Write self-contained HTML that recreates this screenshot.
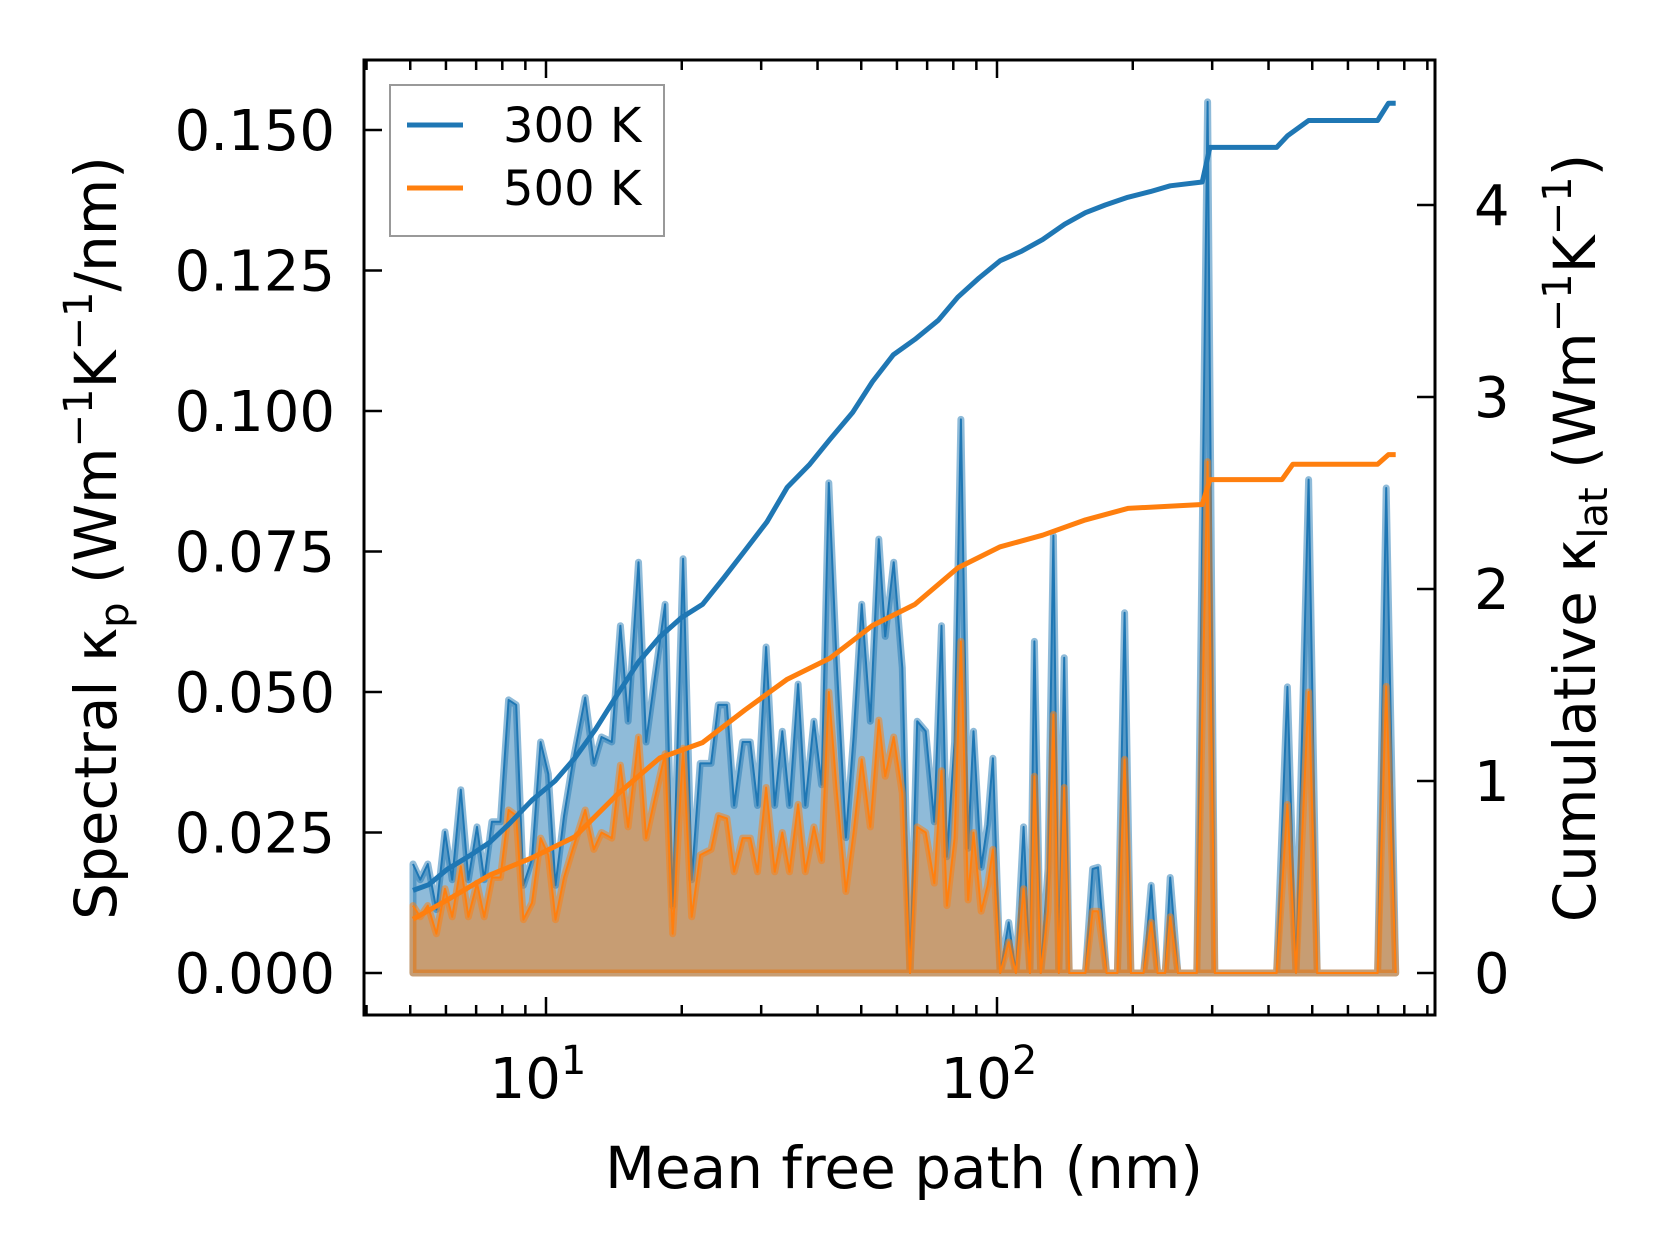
<!DOCTYPE html>
<html><head><meta charset="utf-8"><style>
html,body{margin:0;padding:0;background:#fff;}
svg{display:block;font-family:"DejaVu Sans","Liberation Sans",sans-serif;}
</style></head><body>
<svg id="chart" width="1660" height="1254" viewBox="0 0 1660 1254" xmlns="http://www.w3.org/2000/svg"></svg>
<script>
// ---- data ----
const logMfp = [0.705,0.721,0.738,0.757,0.776,0.792,0.811,0.828,0.847,0.863,
0.880,0.899,0.917,0.934,0.950,0.969,0.988,1.005,1.021,1.040,
1.059,1.087,1.106,1.123,1.146,1.165,1.182,1.205,1.222,1.241,
1.264,1.281,1.304,1.323,1.342,1.366,1.382,1.401,1.417,1.436,
1.453,1.469,1.488,1.507,1.524,1.540,1.559,1.575,1.594,1.611,
1.627,1.644,1.665,1.682,1.700,1.719,1.738,1.752,1.771,1.790,
1.807,1.823,1.842,1.861,1.877,1.889,1.906,1.920,1.936,1.948,
1.965,1.979,1.991,2.007,2.026,2.042,2.059,2.073,2.083,2.097,
2.113,2.125,2.137,2.149,2.160,2.196,2.212,2.224,2.243,2.267,
2.283,2.297,2.325,2.342,2.356,2.373,2.384,2.401,2.443,2.467,
2.483,2.620,2.644,2.663,2.691,2.710,2.844,2.863,2.884];
const spec300 = [0.0194,0.0166,0.0194,0.0113,0.0251,0.0166,0.0326,0.0166,0.0260,0.0166,
0.0269,0.0269,0.0486,0.0477,0.0156,0.0203,0.0411,0.0354,0.0156,0.0279,
0.0373,0.0490,0.0373,0.0420,0.0411,0.0618,0.0448,0.0731,0.0411,0.0524,
0.0656,0.0119,0.0737,0.0166,0.0373,0.0373,0.0477,0.0477,0.0298,0.0411,
0.0411,0.0298,0.0580,0.0298,0.0430,0.0298,0.0514,0.0298,0.0448,0.0335,
0.0872,0.0561,0.0241,0.0420,0.0656,0.0448,0.0772,0.0599,0.0731,0.0543,
0,0.0448,0.0430,0.0269,0.0618,0.0207,0.0411,0.0985,0.0222,0.0430,
0.0188,0.0264,0.0382,0,0.0090,0,0.0260,0,0.0590,0,
0.0185,0.0778,0,0.0561,0,0,0.0185,0.0188,0,0,
0.0641,0,0,0.0156,0,0,0.0170,0,0,0.155,
0,0,0.0509,0,0.0878,0,0,0.0863,0];
const spec500 = [0.0120,0.0100,0.0120,0.0070,0.0150,0.0100,0.0190,0.0100,0.0160,0.0100,
0.0170,0.0170,0.0290,0.0280,0.0095,0.0125,0.0240,0.0210,0.0095,0.0170,
0.0220,0.0290,0.0220,0.0250,0.0240,0.0370,0.0260,0.0420,0.0240,0.0310,
0.0390,0.0070,0.0400,0.0100,0.0210,0.0220,0.0280,0.0275,0.0180,0.0240,
0.0240,0.0180,0.0330,0.0180,0.0250,0.0180,0.0300,0.0180,0.0260,0.0200,
0.0500,0.0330,0.0145,0.0250,0.0380,0.0260,0.0450,0.0350,0.0420,0.0320,
0,0.0260,0.0250,0.0160,0.0360,0.0120,0.0240,0.0590,0.0130,0.0250,
0.0110,0.0155,0.0220,0,0.0055,0,0.0150,0,0.0350,0,
0.0110,0.0460,0,0.0330,0,0,0.0110,0.0110,0,0,
0.0380,0,0,0.0090,0,0,0.0100,0,0,0.0910,
0,0,0.0300,0,0.0500,0,0,0.0510,0];
const cumLog300 = [0.705,0.740,0.781,0.830,0.875,0.920,0.969,1.020,1.064,1.110,1.158,1.205,1.252,1.300,1.347,1.395,1.441,1.490,1.535,1.585,1.630,1.680,1.724,1.770,1.818,1.870,1.913,1.960,2.007,2.055,2.101,2.150,2.196,2.240,2.290,2.340,2.384,2.455,2.472,2.620,2.644,2.691,2.844,2.868,2.884];
const cum300 = [0.43,0.46,0.54,0.61,0.68,0.78,0.90,1.00,1.12,1.27,1.45,1.62,1.75,1.85,1.92,2.06,2.20,2.35,2.53,2.65,2.78,2.92,3.08,3.22,3.30,3.40,3.52,3.62,3.71,3.76,3.82,3.90,3.96,4.00,4.04,4.07,4.10,4.12,4.30,4.30,4.36,4.44,4.44,4.53,4.53];
const cumLog500 = [0.705,0.781,0.875,0.969,1.064,1.158,1.252,1.347,1.441,1.535,1.630,1.724,1.818,1.913,2.007,2.101,2.196,2.290,2.455,2.472,2.632,2.656,2.844,2.868,2.884];
const cum500 = [0.28,0.38,0.51,0.60,0.71,0.93,1.12,1.20,1.37,1.53,1.64,1.81,1.92,2.11,2.22,2.28,2.36,2.42,2.44,2.57,2.57,2.65,2.65,2.70,2.70];
const leftTicks = [0,0.025,0.05,0.075,0.1,0.125,0.15];
const leftTickLabels = ["0.000","0.025","0.050","0.075","0.100","0.125","0.150"];
const rightTicks = [0,1,2,3,4];
const xMajor = [1,2];

// ---- layout ----
const L=364,T=60,R=1435,B=1015;
const X = lg => 546 + (lg-1)*451;
const YL = v => 973 - v*5620;
const YR = v => 973 - v*192;
const svg=document.getElementById('chart');
const NS='http://www.w3.org/2000/svg';
function mk(tag,attrs,parent){const e=document.createElementNS(NS,tag);for(const k in attrs)e.setAttribute(k,attrs[k]);(parent||svg).appendChild(e);return e;}

const plot=mk('g',{});



function spectral(vals,color,name){
  let pts=logMfp.map((l,i)=>X(l).toFixed(1)+','+YL(vals[i]).toFixed(1));
  const poly=mk('polygon',{points:X(logMfp[0])+','+YL(0)+' '+pts.join(' ')+' '+X(logMfp[logMfp.length-1])+','+YL(0),fill:color,'fill-opacity':0.5,stroke:color,'stroke-opacity':0.5,'stroke-width':7,'stroke-linejoin':'round'},plot);
  
  
  const ln=mk('polyline',{points:pts.join(' '),fill:'none',stroke:color,'stroke-width':2,'stroke-linejoin':'round'},plot);
  
  
}
spectral(spec300,'#1f77b4','spectral-300k');
spectral(spec500,'#ff7f0e','spectral-500k');

function cum(xs,vals,color,name){
  const pts=xs.map((l,i)=>X(l).toFixed(1)+','+YR(vals[i]).toFixed(1)).join(' ');
  const ln=mk('polyline',{points:pts,fill:'none',stroke:color,'stroke-width':5,'stroke-linejoin':'round'},plot);
  
  
}
cum(cumLog300,cum300,'#1f77b4','cumulative-300k');
cum(cumLog500,cum500,'#ff7f0e','cumulative-500k');

const frame=mk('rect',{x:L,y:T,width:R-L,height:B-T,fill:'none',stroke:'#000','stroke-width':3});



const ticks=mk('g',{stroke:'#000','stroke-width':2.5});


const labels=mk('g',{fill:'#000','font-size':56});



leftTicks.forEach((v,i)=>{
  const y=YL(v);
  mk('line',{x1:L,x2:L+18,y1:y,y2:y},ticks);
  const t=mk('text',{x:335,y:y+20,'text-anchor':'end'},labels);
  t.textContent=leftTickLabels[i];
  
  
});
rightTicks.forEach(v=>{
  const y=YR(v);
  mk('line',{x1:R,x2:R-18,y1:y,y2:y},ticks);
  const t=mk('text',{x:1474,y:y+20,'text-anchor':'start'},labels);
  t.textContent=String(v);
  
  
});
for(let d=0;d<=3;d++){
  for(let m=1;m<=9;m++){
    const lg=d+Math.log10(m);
    const x=X(lg);
    if(x<L+1||x>R-1)continue;
    const len=m===1?18:10;
    mk('line',{x1:x,x2:x,y1:B,y2:B-len},ticks);
    mk('line',{x1:x,x2:x,y1:T,y2:T+len},ticks);
  }
}
xMajor.forEach(p=>{
  const t=mk('text',{x:X(p)-8,y:1098,'text-anchor':'middle'},labels);
  
  
  t.textContent='10';
  const s=mk('tspan',{dy:-24,'font-size':40},t);
  s.textContent=String(p);
});

const xt=mk('text',{x:904,y:1188,'text-anchor':'middle','font-size':58});
xt.textContent='Mean free path (nm)';



const yl=mk('text',{transform:'translate(116,538) rotate(-90)','text-anchor':'middle','font-size':58});


yl.innerHTML='Spectral κ<tspan dy="12" font-size="40">p</tspan><tspan dy="-12"> (Wm</tspan><tspan dy="-24" font-size="40">−1</tspan><tspan dy="24">K</tspan><tspan dy="-24" font-size="40">−1</tspan><tspan dy="24">/nm)</tspan>';

const yr=mk('text',{transform:'translate(1595,538) rotate(-90)','text-anchor':'middle','font-size':58});


yr.innerHTML='Cumulative κ<tspan dy="12" font-size="40">lat</tspan><tspan dy="-12"> (Wm</tspan><tspan dy="-24" font-size="40">−1</tspan><tspan dy="24">K</tspan><tspan dy="-24" font-size="40">−1</tspan><tspan dy="24">)</tspan>';

const lg=mk('g',{});


mk('rect',{x:390,y:85,width:274,height:151,fill:'#fff',stroke:'#999','stroke-width':2},lg);
[['300 K','#1f77b4',125],['500 K','#ff7f0e',188]].forEach(([txt,c,y])=>{
  const e=mk('g',{},lg);
  
  
  mk('line',{x1:407,x2:463,y1:y,y2:y,stroke:c,'stroke-width':5},e);
  const t=mk('text',{x:503,y:y+17,'font-size':48},e);
  t.textContent=txt;
});
</script>
</body></html>
